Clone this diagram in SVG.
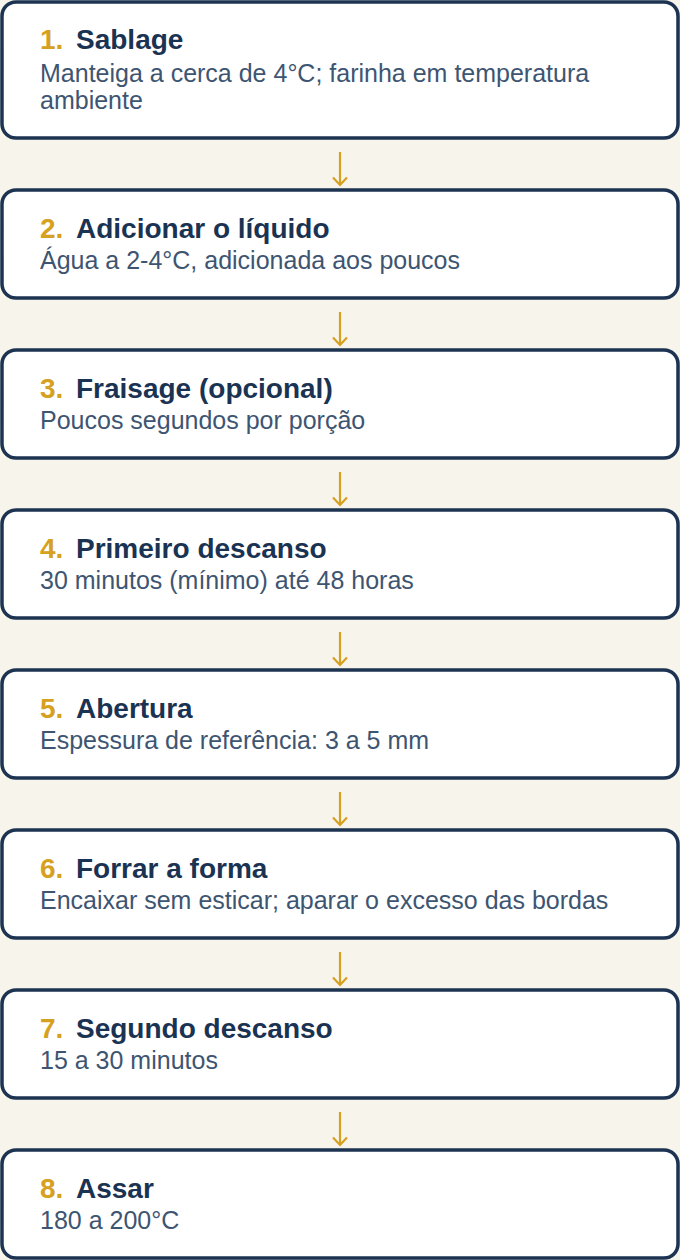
<svg xmlns="http://www.w3.org/2000/svg" width="680" height="1260" viewBox="0 0 680 1260">
<style>
.box{fill:#ffffff;stroke:#1c3352;stroke-width:3.5}
.num{font-family:"Liberation Sans",Arial,sans-serif;font-weight:bold;font-size:28px;fill:#d6a021}
.ttl{font-family:"Liberation Sans",Arial,sans-serif;font-weight:bold;font-size:28px;fill:#1b3353}
.sub{font-family:"Liberation Sans",Arial,sans-serif;font-size:25px;fill:#3e5572}
.arr{stroke:#d6a021;stroke-width:2.2;fill:none}
</style>
<rect x="0" y="0" width="680" height="1260" fill="#f7f4ec"/>
<g id="connectors">
<g><line class="arr" x1="340" y1="152" x2="340" y2="185"/><path class="arr" d="M333 177.5 L340 185 L347 177.5"/></g>
<g><line class="arr" x1="340" y1="312" x2="340" y2="345"/><path class="arr" d="M333 337.5 L340 345 L347 337.5"/></g>
<g><line class="arr" x1="340" y1="472" x2="340" y2="505"/><path class="arr" d="M333 497.5 L340 505 L347 497.5"/></g>
<g><line class="arr" x1="340" y1="632" x2="340" y2="665"/><path class="arr" d="M333 657.5 L340 665 L347 657.5"/></g>
<g><line class="arr" x1="340" y1="792" x2="340" y2="825"/><path class="arr" d="M333 817.5 L340 825 L347 817.5"/></g>
<g><line class="arr" x1="340" y1="952" x2="340" y2="985"/><path class="arr" d="M333 977.5 L340 985 L347 977.5"/></g>
<g><line class="arr" x1="340" y1="1112" x2="340" y2="1145"/><path class="arr" d="M333 1137.5 L340 1145 L347 1137.5"/></g>
</g>
<g id="step1">
<rect class="box" x="2" y="2" width="676" height="136" rx="14"/>
<text class="num" x="40" y="49">1.</text>
<text class="ttl" x="76" y="49">Sablage</text>
<text class="sub" x="40" y="82">Manteiga a cerca de 4°C; farinha em temperatura</text>
<text class="sub" x="40" y="109">ambiente</text>
</g>
<g id="step2">
<rect class="box" x="2" y="190" width="676" height="108" rx="14"/>
<text class="num" x="40" y="237.5">2.</text>
<text class="ttl" x="76" y="237.5">Adicionar o líquido</text>
<text class="sub" x="40" y="269">Água a 2-4°C, adicionada aos poucos</text>
</g>
<g id="step3">
<rect class="box" x="2" y="350" width="676" height="108" rx="14"/>
<text class="num" x="40" y="397.5">3.</text>
<text class="ttl" x="76" y="397.5">Fraisage (opcional)</text>
<text class="sub" x="40" y="429">Poucos segundos por porção</text>
</g>
<g id="step4">
<rect class="box" x="2" y="510" width="676" height="108" rx="14"/>
<text class="num" x="40" y="557.5">4.</text>
<text class="ttl" x="76" y="557.5">Primeiro descanso</text>
<text class="sub" x="40" y="589">30 minutos (mínimo) até 48 horas</text>
</g>
<g id="step5">
<rect class="box" x="2" y="670" width="676" height="108" rx="14"/>
<text class="num" x="40" y="717.5">5.</text>
<text class="ttl" x="76" y="717.5">Abertura</text>
<text class="sub" x="40" y="749">Espessura de referência: 3 a 5 mm</text>
</g>
<g id="step6">
<rect class="box" x="2" y="830" width="676" height="108" rx="14"/>
<text class="num" x="40" y="877.5">6.</text>
<text class="ttl" x="76" y="877.5">Forrar a forma</text>
<text class="sub" x="40" y="909">Encaixar sem esticar; aparar o excesso das bordas</text>
</g>
<g id="step7">
<rect class="box" x="2" y="990" width="676" height="108" rx="14"/>
<text class="num" x="40" y="1037.5">7.</text>
<text class="ttl" x="76" y="1037.5">Segundo descanso</text>
<text class="sub" x="40" y="1069">15 a 30 minutos</text>
</g>
<g id="step8">
<rect class="box" x="2" y="1150" width="676" height="108" rx="14"/>
<text class="num" x="40" y="1197.5">8.</text>
<text class="ttl" x="76" y="1197.5">Assar</text>
<text class="sub" x="40" y="1229">180 a 200°C</text>
</g>
</svg>
